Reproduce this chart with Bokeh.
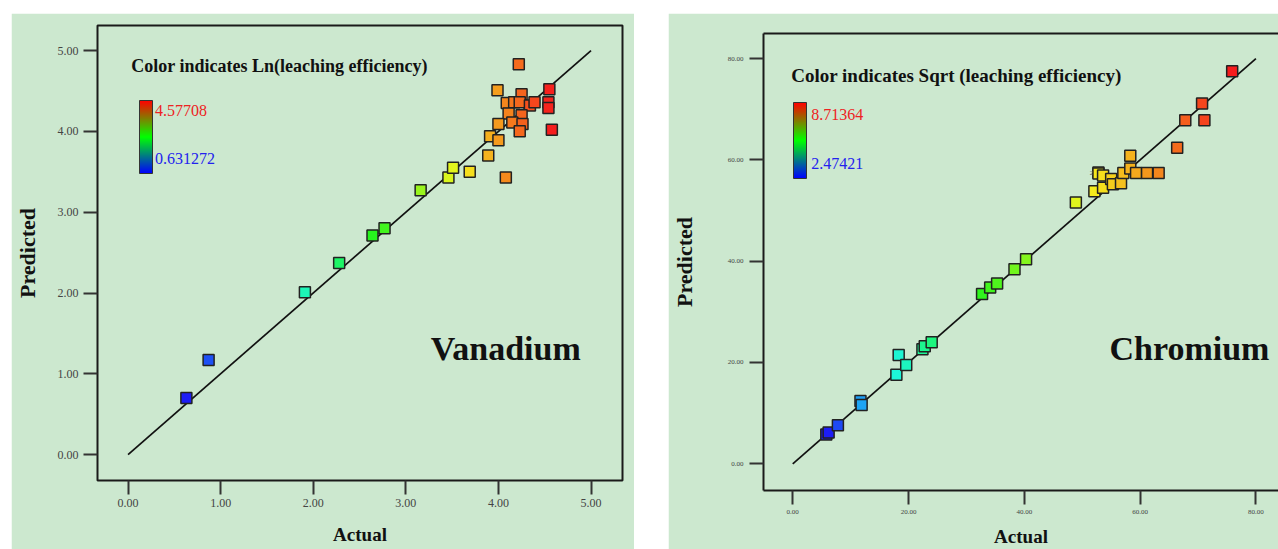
import colorsys
from bokeh.plotting import figure
from bokeh.layouts import row
from bokeh.models import (ColumnDataSource, Label, ColorBar, LinearColorMapper,
                          FixedTicker, LinearAxis, Range1d)
from bokeh.transform import linear_cmap
from bokeh.embed import file_html
from bokeh.resources import INLINE

# ---------------- data ----------------
v_actual = [0.63, 0.87, 1.91, 2.28, 2.64, 2.77, 3.16, 3.46, 3.51, 3.69, 3.89, 3.91,
            4.00, 4.08, 3.99, 4.22, 4.55, 4.54, 4.54, 4.577, 4.25, 4.09, 4.17, 4.23,
            4.34, 4.39, 4.11, 4.25, 4.15, 4.26, 4.23, 4.00]
v_pred = [0.70, 1.17, 2.01, 2.37, 2.71, 2.80, 3.27, 3.43, 3.55, 3.50, 3.70, 3.94,
          3.89, 3.43, 4.51, 4.83, 4.52, 4.36, 4.29, 4.02, 4.46, 4.35, 4.36, 4.36,
          4.32, 4.36, 4.22, 4.20, 4.11, 4.09, 4.00, 4.09]

cr_actual = [5.8, 6.2, 7.8, 11.7, 11.9, 17.9, 18.3, 19.6, 22.4, 22.8, 24.0, 32.7,
             34.1, 35.3, 38.3, 40.3, 48.9, 52.1, 52.8, 52.8, 53.6, 53.6, 55.0, 55.3,
             56.7, 57.1, 58.3, 58.3, 59.3, 61.2, 63.2, 66.4, 67.8, 70.7, 71.1, 75.9]
cr_pred = [5.8, 6.2, 7.6, 12.4, 11.6, 17.6, 21.5, 19.5, 22.6, 23.2, 24.0, 33.5,
           34.8, 35.6, 38.4, 40.4, 51.6, 53.8, 57.5, 57.3, 54.5, 56.9, 56.2, 55.2,
           55.4, 57.4, 58.3, 60.8, 57.4, 57.4, 57.4, 62.4, 67.8, 71.1, 67.8, 77.5]

v_ticks = [0, 1, 2, 3, 4, 5]
v_tick_labels = ["0.00", "1.00", "2.00", "3.00", "4.00", "5.00"]
cr_ticks = [0, 20, 40, 60, 80]
cr_tick_labels = ["0.00", "20.00", "40.00", "60.00", "80.00"]

v_color_low, v_color_high = 0.631272, 4.57708
cr_color_low, cr_color_high = 2.47421, 8.71364

v_title = "Color indicates Ln(leaching efficiency)"
cr_title = "Color indicates Sqrt (leaching efficiency)"
v_hi_label, v_lo_label = "4.57708", "0.631272"
cr_hi_label, cr_lo_label = "8.71364", "2.47421"

GREEN = "#CCE8CF"
SERIF = "Liberation Serif"


def to_hex(r, g, b):
    return "#%02x%02x%02x" % (int(round(r * 255)), int(round(g * 255)), int(round(b * 255)))


def hue_palette(n=256, s=0.88, v=0.96):
    pal = []
    for i in range(n):
        h = 240.0 * (1 - i / (n - 1)) / 360.0
        pal.append(to_hex(*colorsys.hsv_to_rgb(h, s, v)))
    return pal


def bar_palette(n=256):
    pal = []
    half = n // 2
    for i in range(n):
        if i < half:
            t = i / (half - 1)
            pal.append(to_hex(0, t, 1 - t))
        else:
            t = (i - half) / (n - half - 1)
            pal.append(to_hex(t, 1 - t, 0))
    return pal


POINT_PAL = hue_palette()
BAR_PAL = bar_palette()


def style_axis(ax, ticks, labels, font_size, standoff):
    ax.ticker = FixedTicker(ticks=ticks)
    ax.major_label_overrides = {t: l for t, l in zip(ticks, labels)}
    ax.major_label_text_font = SERIF
    ax.major_label_text_font_size = font_size
    ax.major_label_text_color = "#444444"
    ax.major_label_standoff = standoff
    ax.major_tick_line_color = "#333333"
    ax.major_tick_line_width = 2
    ax.major_tick_out = 14
    ax.major_tick_in = 0
    ax.minor_tick_line_color = None


def make_panel(actual, pred, cvals, clow, chigh, xr, yr, ticks, tick_labels,
               width, height, borders, tick_font, tick_standoff, ylab_standoff, xlab_standoff,
               title, title_size, title_xy, hi_lab, lo_lab, lab_x, hi_y, lo_y,
               name, name_xy, cb_loc, cb_h, boxed, two_xy=None):
    bl, br, bt, bb = borders
    p = figure(width=width, height=height, x_range=Range1d(*xr), y_range=Range1d(*yr),
               output_backend="svg", toolbar_location=None,
               background_fill_color=GREEN, border_fill_color=GREEN,
               min_border_left=bl, min_border_right=br, min_border_top=bt,
               min_border_bottom=bb)
    if "frame_align" in p.properties():
        p.frame_align = False
    p.grid.visible = False

    style_axis(p.xaxis[0], ticks, tick_labels, tick_font, tick_standoff)
    style_axis(p.yaxis[0], ticks, tick_labels, tick_font, tick_standoff + 1)
    for ax, lab, size, so in ((p.yaxis[0], "Predicted", "22px", ylab_standoff),
                              (p.xaxis[0], "Actual", "19px", xlab_standoff)):
        ax.axis_label = lab
        ax.axis_label_text_font = SERIF
        ax.axis_label_text_font_style = "bold"
        ax.axis_label_text_font_size = size
        ax.axis_label_text_color = "#111111"
        ax.axis_label_standoff = so

    if boxed:
        p.outline_line_color = "#1a1a1a"
        p.outline_line_width = 2
        p.xaxis.axis_line_color = None
        p.yaxis.axis_line_color = None
    else:
        p.outline_line_color = None
        p.xaxis.axis_line_color = "#1a1a1a"
        p.yaxis.axis_line_color = "#1a1a1a"
        p.xaxis.axis_line_width = 2
        p.yaxis.axis_line_width = 2
        top = LinearAxis(axis_line_color="#1a1a1a", axis_line_width=2,
                         major_tick_line_color=None, minor_tick_line_color=None,
                         ticker=FixedTicker(ticks=[]))
        p.add_layout(top, "above")

    # identity line
    p.line(x=[ticks[0], ticks[-1]], y=[ticks[0], ticks[-1]], line_color="#111111", line_width=1.7)

    src = ColumnDataSource(dict(x=actual, y=pred, c=cvals))
    p.scatter("x", "y", source=src, marker="square", size=11,
              fill_color=linear_cmap("c", POINT_PAL, clow, chigh),
              line_color="#222222", line_width=1.5)

    # colour key
    cb_mapper = LinearColorMapper(palette=BAR_PAL, low=clow, high=chigh)
    cb = ColorBar(color_mapper=cb_mapper, location=cb_loc, width=13, height=cb_h,
                  padding=0, margin=0, ticker=FixedTicker(ticks=[]),
                  major_tick_line_color=None, minor_tick_line_color=None,
                  bar_line_color="#333333", bar_line_width=1,
                  background_fill_alpha=0, border_line_color=None, label_standoff=0)
    p.add_layout(cb)

    p.add_layout(Label(x=title_xy[0], y=title_xy[1], text=title, text_font=SERIF,
                       text_font_style="bold", text_font_size=title_size,
                       text_baseline="middle", text_color="#111111"))
    p.add_layout(Label(x=lab_x, y=hi_y, text=hi_lab, text_font=SERIF, text_font_size="16px",
                       text_baseline="middle", text_color="#EE2222"))
    p.add_layout(Label(x=lab_x, y=lo_y, text=lo_lab, text_font=SERIF, text_font_size="16px",
                       text_baseline="middle", text_color="#2222EE"))
    p.add_layout(Label(x=name_xy[0], y=name_xy[1], text=name, text_font=SERIF,
                       text_font_style="bold", text_font_size="34px",
                       text_baseline="middle", text_color="#111111"))
    if two_xy is not None:
        p.add_layout(Label(x=two_xy[0], y=two_xy[1], text="2", text_font=SERIF,
                           text_font_size="7px", text_baseline="middle",
                           text_color="#555555"))
    return p


p1 = make_panel(v_actual, v_pred, v_actual, v_color_low, v_color_high,
                (-0.33, 5.34), (-0.32, 5.31), v_ticks, v_tick_labels,
                width=623, height=536, borders=(86, 12, 12, 69),
                tick_font="12px", tick_standoff=4, ylab_standoff=15, xlab_standoff=14,
                title=v_title, title_size="18px", title_xy=(0.035, 4.81),
                hi_lab=v_hi_label, lo_lab=v_lo_label, lab_x=0.29, hi_y=4.26, lo_y=3.66,
                name="Vanadium", name_xy=(3.27, 1.31),
                cb_loc=(42, 307), cb_h=73, boxed=True)

cr_sqrt = [a ** 0.5 for a in cr_actual]
p2 = make_panel(cr_actual, cr_pred, cr_sqrt, cr_color_low, cr_color_high,
                (-5.05, 83.9), (-5.27, 84.94), cr_ticks, cr_tick_labels,
                width=610, height=536, borders=(95, 0, 20, 59),
                tick_font="7px", tick_standoff=5, ylab_standoff=28, xlab_standoff=9,
                title=cr_title, title_size="19px", title_xy=(-0.26, 76.6),
                hi_lab=cr_hi_label, lo_lab=cr_lo_label, lab_x=3.2, hi_y=68.9, lo_y=59.3,
                name="Chromium", name_xy=(54.7, 22.8),
                cb_loc=(30, 312), cb_h=76, boxed=False, two_xy=(51.3, 57.5))

p1.margin = (13, 0, 0, 11)
p2.margin = (13, 0, 0, 34)

layout = row(p1, p2)
layout.margin = 0
layout.spacing = 0

open("out.html", "w").write(file_html(layout, INLINE))
